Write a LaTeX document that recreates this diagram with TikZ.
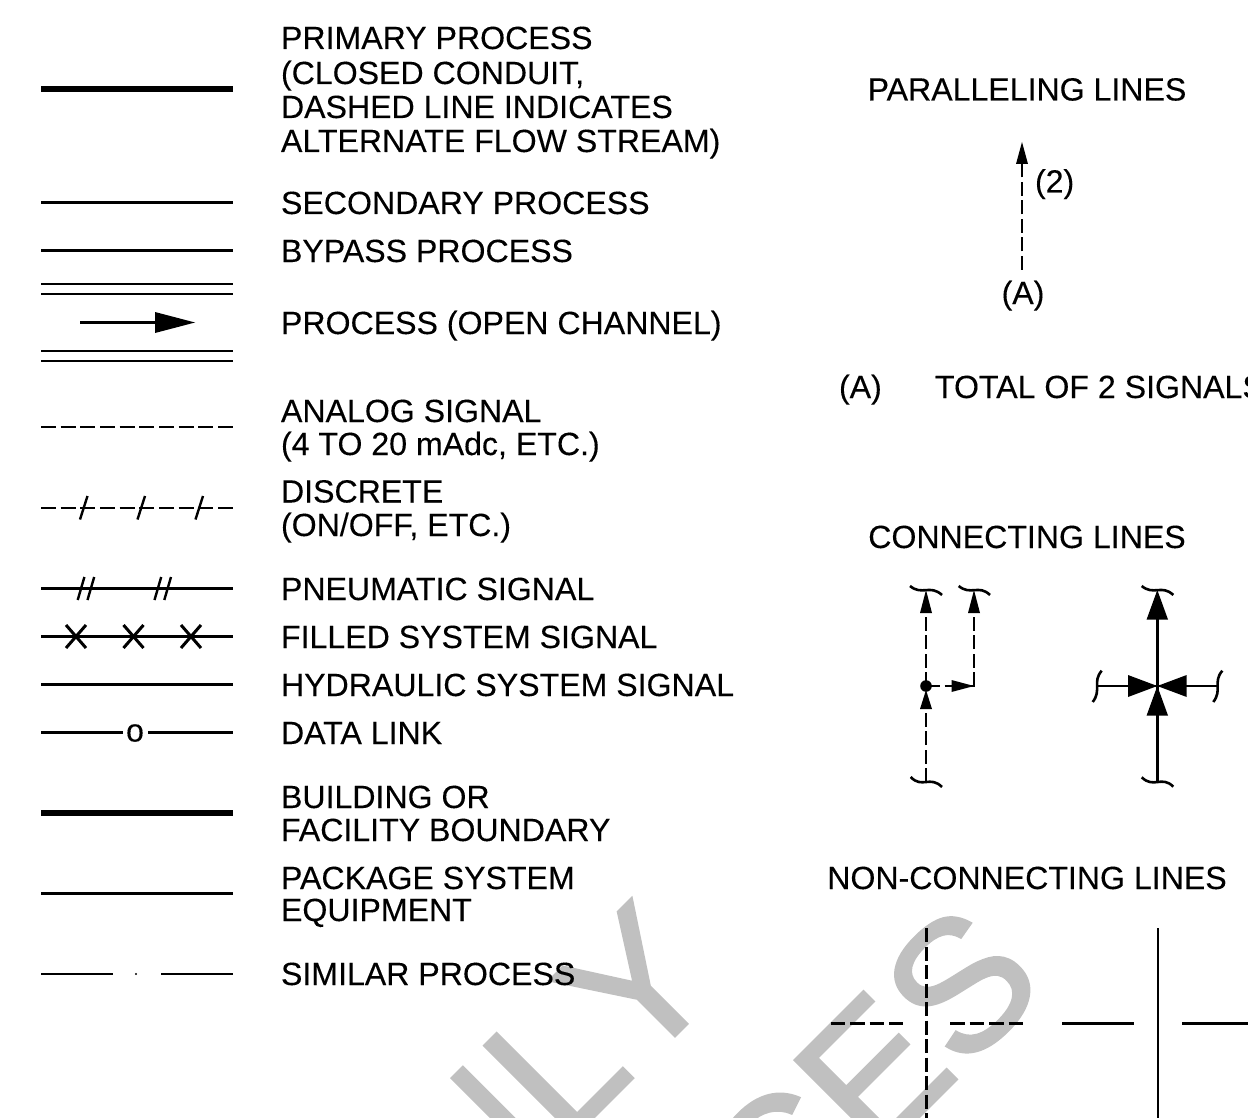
\documentclass[tikz,border=0pt]{standalone}
\usepackage{fontspec}
\setmainfont[FakeBold=0.2]{Liberation Sans}
\newfontfamily\wmfont[FakeBold=1.4,Kerning=Off]{Liberation Sans}
\tikzset{
  lbl/.style={anchor=base west,inner sep=0pt,outer sep=0pt,font=\fontsize{32.1}{32}\selectfont},
  ctr/.style={anchor=base,inner sep=0pt,outer sep=0pt,font=\fontsize{32.1}{32}\selectfont},
  wm/.style={anchor=base east,inner sep=0pt,outer sep=0pt,rotate=45,text=wmgray,font=\wmfont\fontsize{186}{186}\selectfont},
  thick5/.style={line width=5.5pt},
  med/.style={line width=2.8pt},
  thin2/.style={line width=2.3pt},
  legdash/.style={line width=2.4pt,dash pattern=on 15pt off 4.67pt},
  vdash/.style={line width=2.2pt,dash pattern=on 14pt off 4.5pt},
  hdash/.style={line width=2.4pt,dash pattern=on 14.5pt off 5pt},
  tick/.style={line width=2.4pt},
  brk/.style={line width=2.6pt},
  tip/.style={fill=black,draw=none}
}
\definecolor{wmgray}{HTML}{C0C0C0}
\begin{document}
\begin{tikzpicture}[x=1pt,y=-1pt]
\useasboundingbox (0,0) rectangle (1248,1118);
\begin{scope}
\clip (0,0) rectangle (1248,1118);
% watermark
\node[wm] (wmA) at (725,986) {ONLY};
\node[wm] (wmB) at (1050,986) {CES};
% labels left
\node[lbl] (t1a) at (281,49) {PRIMARY PROCESS};
\node[lbl] (t1b) at (281,84) {(CLOSED CONDUIT,};
\node[lbl] (t1c) at (281,118) {DASHED LINE INDICATES};
\node[lbl] (t1d) at (281,152) {ALTERNATE FLOW STREAM)};
\node[lbl] (t2) at (281,214) {SECONDARY PROCESS};
\node[lbl] (t3) at (281,262) {BYPASS PROCESS};
\node[lbl] (t4) at (281,334) {PROCESS (OPEN CHANNEL)};
\node[lbl] (t5a) at (281,422) {ANALOG SIGNAL};
\node[lbl] (t5b) at (281,455) {(4 TO 20 mAdc, ETC.)};
\node[lbl] (t6a) at (281,502.5) {DISCRETE};
\node[lbl] (t6b) at (281,536) {(ON/OFF, ETC.)};
\node[lbl] (t7) at (281,600) {PNEUMATIC SIGNAL};
\node[lbl] (t8) at (281,648) {FILLED SYSTEM SIGNAL};
\node[lbl] (t9) at (281,696) {HYDRAULIC SYSTEM SIGNAL};
\node[lbl] (t10) at (281,744) {DATA LINK};
\node[lbl] (t11a) at (281,808) {BUILDING OR};
\node[lbl] (t11b) at (281,841) {FACILITY BOUNDARY};
\node[lbl] (t12a) at (281,889) {PACKAGE SYSTEM};
\node[lbl] (t12b) at (281,921) {EQUIPMENT};
\node[lbl] (t13) at (281,985) {SIMILAR PROCESS};
% labels right
\node[ctr] (h1) at (1027,100.5) {PARALLELING LINES};
\node[lbl] (p2) at (1035,192.5) {(2)};
\node[ctr] (pA) at (1023,304) {(A)};
\node[lbl] (nA) at (839,398) {(A)};
\node[lbl] (nT) at (935,398) {TOTAL OF 2 SIGNALS};
\node[ctr] (h2) at (1027,548) {CONNECTING LINES};
\node[ctr] (h3) at (1027,889) {NON-CONNECTING LINES};
% legend lines
\draw[thick5] (41,89) -- (233,89);
\draw[med] (41,202.5) -- (233,202.5);
\draw[med] (41,250.5) -- (233,250.5);
\draw[med] (41,284) -- (233,284);
\draw[med] (41,294) -- (233,294);
\draw[med] (80,322.5) -- (160,322.5);
\fill[tip] (195,322.5) -- (155,312) -- (155,333) -- cycle;
\draw[med] (41,351) -- (233,351);
\draw[med] (41,361) -- (233,361);
\draw[legdash] (41,427) -- (233,427);
\draw[legdash] (41,508) -- (233,508);
\foreach \px in {80,137.5,195.5} \draw[tick] (\px,519.5) -- (\px+7.5,496);
\draw[thin2] (41,588.5) -- (233,588.5);
\foreach \px in {77.7,87.5,154.5,164.3} \draw[tick] (\px,600) -- (\px+6.7,577);
\draw[thin2] (41,636.5) -- (233,636.5);
\foreach \px in {66,123.5,181} {\draw[line width=3pt] (\px,625) -- (\px+20,648); \draw[line width=3pt] (\px+20,625) -- (\px,648);}
\draw[thin2] (41,684.5) -- (233,684.5);
\draw[thin2] (41,732.5) -- (123,732.5);
\draw[thin2] (148,732.5) -- (233,732.5);
\node[anchor=base,inner sep=0pt,font=\fontsize{32.1}{32}\selectfont] (olink) at (135,741.5) {o};
\draw[thick5] (41,813) -- (233,813);
\draw[thin2] (41,893.5) -- (233,893.5);
\draw[thin2] (41,974) -- (113,974);
\fill (136,974) circle (1.2pt);
\draw[thin2] (161,974) -- (233,974);
% paralleling arrow
\draw[vdash] (1022,270) -- (1022,160);
\fill[tip] (1022,142) -- (1016,164) -- (1028,164) -- cycle;
% connecting left
\draw[vdash] (926,782) -- (926,690);
\draw[vdash] (926,686) -- (926,606);
\draw[vdash] (974,686) -- (974,606);
\draw[vdash] (926,686) -- (955,686);
\draw[line width=2.2pt] (966,686) -- (974,686) -- (974,680);
\fill[tip] (926,590) -- (920,613) -- (932,613) -- cycle;
\fill[tip] (974,590) -- (968,613) -- (980,613) -- cycle;
\fill[tip] (926,690) -- (920,709) -- (932,709) -- cycle;
\fill[tip] (974,686) -- (951.5,680) -- (951.5,692) -- cycle;
\fill (926,686) circle (5.8pt);
\draw[brk] (910,586) .. controls (922,596) and (930,584) .. (942,595);
\draw[brk] (958.7,586) .. controls (970.7,596) and (978.7,584) .. (990,595);
\draw[brk] (910.7,777) .. controls (922,789) and (930,775) .. (942,787);
% connecting right
\draw[med] (1157.3,782) -- (1157.3,600);
\draw[med] (1098,686) -- (1217,686);
\fill[tip] (1157.3,590) -- (1146.6,619.5) -- (1168,619.5) -- cycle;
\fill[tip] (1157.3,686) -- (1146.6,715.5) -- (1168,715.5) -- cycle;
\fill[tip] (1157.3,686) -- (1128,675) -- (1128,697) -- cycle;
\fill[tip] (1157.3,686) -- (1186.7,675) -- (1186.7,697) -- cycle;
\draw[brk] (1141.7,586) .. controls (1153.7,596) and (1161.7,584) .. (1173.3,595);
\draw[brk] (1141.7,777.3) .. controls (1153.7,789) and (1161.7,775) .. (1173.3,786.7);
\draw[brk] (1101.7,670.7) .. controls (1092,682) and (1102,690) .. (1092.7,702);
\draw[brk] (1222.3,670.7) .. controls (1212.6,682) and (1222.6,690) .. (1213.3,702);
% non-connecting
\draw[hdash] (830.5,1023.5) -- (903,1023.5);
\draw[hdash] (950,1023.5) -- (1023,1023.5);
\draw[vdash] (926.5,928) -- (926.5,1118);
\draw[med] (1062,1023.5) -- (1134,1023.5);
\draw[med] (1182,1023.5) -- (1248,1023.5);
\draw[med] (1158,928) -- (1158,1118);
\end{scope}
\end{tikzpicture}
\end{document}
